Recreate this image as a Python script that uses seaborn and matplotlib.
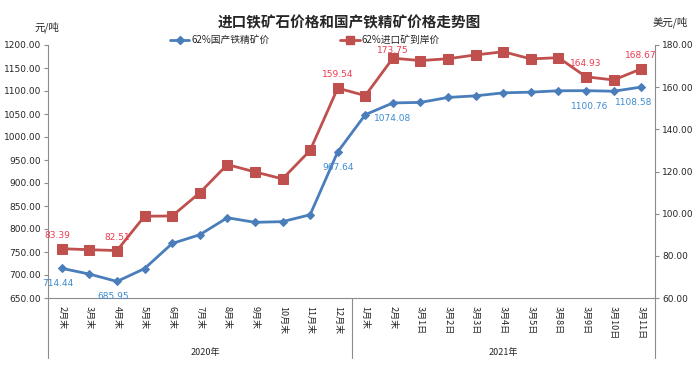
import numpy as np
import matplotlib
matplotlib.use("Agg")
import matplotlib.pyplot as plt
import seaborn as sns
from matplotlib.lines import Line2D

# x 轴标签
labels = ['2月末', '3月末', '4月末', '5月末', '6月末', '7月末', '8月末', '9月末', '10月末', '11月末', '12月末',
          '1月末', '2月末', '3月1日', '3月2日', '3月3日', '3月4日', '3月5日', '3月8日', '3月9日', '3月10日', '3月11日']
years = ['2020年', '2021年']
year_sizes = [11, 11]

# 62%国产铁精矿价 (元/吨)
guochan = [714.44, 702, 685.95, 714, 768.5, 787.5, 824.5, 814.5, 816, 831, 967.64,
           1048.5, 1074.08, 1075.2, 1086, 1089.5, 1096, 1097.5, 1100.5, 1100.76, 1099.5, 1108.58]
# 62%进口矿到岸价 (美元/吨)
jinkou = [83.39, 82.9, 82.51, 98.8, 98.9, 109.9, 123.3, 119.8, 116.5, 130.0, 159.54,
          156.0, 173.75, 172.6, 173.5, 175.3, 176.8, 173.4, 174.0, 164.93, 163.4, 168.67]

# 需要标注的点
blue_lab = [0, 2, 10, 12, 19, 21]
red_lab = [0, 2, 10, 12, 19, 21]

sns.set_style("white")
plt.rcParams['font.family'] = ['Noto Sans CJK SC', 'DejaVu Sans']

blue = '#4a7ebb'
red = '#c0504d'
blue_txt = '#3d8bd0'
red_txt = '#ee3a50'
grey = '#8c8c8c'

W, H = 698, 371
fig = plt.figure(figsize=(W / 100, H / 100), dpi=100)
ax = fig.add_axes([48 / W, 1 - 298 / H, 607 / W, 253 / H])
ax2 = ax.twinx()

x = np.arange(len(labels))
sns.lineplot(x=x, y=guochan, ax=ax, color=blue, lw=2, marker='D', markersize=4.5,
             markeredgecolor=blue, legend=False)
sns.lineplot(x=x, y=jinkou, ax=ax2, color=red, lw=2, marker='s', markersize=6.5,
             markeredgecolor=red, legend=False)

for i in blue_lab:
    dy = -11
    dx = -4 if i in (0, 2) else (4 if i == 19 else (-8 if i == 21 else 0))
    ax.annotate(f'{guochan[i]:.2f}', (x[i], guochan[i]), xytext=(dx, dy), textcoords='offset pixels',
                ha='center', va='top', fontsize=6.5, color=blue_txt, family='DejaVu Sans')
for i in red_lab:
    dy = 3 if i == 12 else 9
    dx = -4 if i == 0 else 0
    ax2.annotate(f'{jinkou[i]:.2f}', (x[i], jinkou[i]), xytext=(dx, dy), textcoords='offset pixels',
                 ha='center', va='bottom', fontsize=6.5, color=red_txt, family='DejaVu Sans')

ax.set_xlim(-0.5, len(labels) - 0.5)
ax.set_ylim(650, 1200)
ax.set_yticks(np.arange(650, 1201, 50))
ax.set_yticklabels([f'{v:.2f}' for v in np.arange(650, 1201, 50)], fontsize=6.5, family='DejaVu Sans')
ax2.set_ylim(60, 180)
ax2.set_yticks(np.arange(60, 181, 20))
ax2.set_yticklabels([f'{v:.2f}' for v in np.arange(60, 181, 20)], fontsize=6.5, family='DejaVu Sans')

ax.set_xticks(x)
ax.set_xticklabels(labels, rotation=-90, fontsize=6.5)
ax.tick_params(axis='x', length=0, pad=6)
ax.set_xticks(np.arange(-0.5, len(labels), 1), minor=True)
ax.tick_params(axis='x', which='minor', length=29, color=grey, width=0.8)
ax.tick_params(axis='y', length=3, color=grey, width=0.8, pad=2)
ax2.tick_params(axis='y', length=3, color=grey, width=0.8, pad=2)

for a in (ax, ax2):
    for s in a.spines.values():
        s.set_visible(False)
    a.set_xlabel('')
    a.set_ylabel('')
ax.spines['left'].set_visible(True)
ax.spines['bottom'].set_visible(True)
ax2.spines['right'].set_visible(True)
for s in ('left', 'bottom'):
    ax.spines[s].set_color(grey)
    ax.spines[s].set_linewidth(0.8)
ax2.spines['right'].set_color(grey)
ax2.spines['right'].set_linewidth(0.8)

# 年份分组线与标签
trans = ax.get_xaxis_transform()
start = -0.5
for name, n in zip(years, year_sizes):
    ax.plot([start, start], [0, -0.237], transform=trans, color=grey, lw=0.8, clip_on=False)
    ax.text(start + n / 2 + (0.2 if start < 0 else 0), -0.215, name, transform=trans,
            ha='center', va='center', fontsize=6.5)
    start += n
ax.plot([start, start], [0, -0.237], transform=trans, color=grey, lw=0.8, clip_on=False)

fig.text(0.5, 1 - 22 / H, '进口铁矿石价格和国产铁精矿价格走势图', ha='center', va='center',
         fontsize=10.5, fontweight='bold')
fig.text(47 / W, 1 - 27 / H, '元/吨', ha='center', va='center', fontsize=7.5)
fig.text(670 / W, 1 - 22 / H, '美元/吨', ha='center', va='center', fontsize=7.5)

handles = [Line2D([], [], color=blue, lw=2, marker='D', markersize=4),
           Line2D([], [], color=red, lw=2, marker='s', markersize=6)]
fig.legend(handles, ['62%国产铁精矿价', '62%进口矿到岸价'], ncol=2, frameon=False,
           loc='center left', bbox_to_anchor=(165 / W, 1 - 40 / H), borderpad=0,
           handlelength=2.0, handletextpad=0.2, columnspacing=7.3, fontsize=7)

fig.savefig('out.png', dpi=100)
